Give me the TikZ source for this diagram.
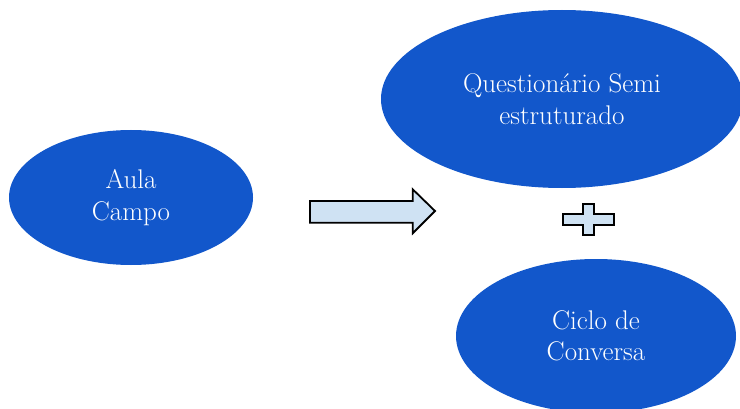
\documentclass[tikz,border=0pt]{standalone}
\usetikzlibrary{shapes.geometric}
\definecolor{ellblue}{RGB}{18,87,203}
\definecolor{shapefill}{RGB}{207,226,243}
\tikzset{
  bubble/.style={ellipse, fill=ellblue, inner sep=0pt, text=white,
    align=center, font=\fontsize{27}{31.5}\selectfont},
  outlined/.style={draw=black, fill=shapefill, line width=1.8pt, line join=miter}
}
\begin{document}
\begin{tikzpicture}[x=1pt,y=1pt]
\useasboundingbox (0,0) rectangle (740,408);
\node[bubble, minimum width=244, minimum height=135] (aula) at (131,210.5) {Aula\\Campo};
\node[bubble, minimum width=362, minimum height=178] (quest) at (562,309) {Questionário Semi\\estruturado};
\node[bubble, minimum width=280, minimum height=154] (ciclo) at (596,72) {Ciclo de\\Conversa};
% arrow
\draw[outlined] (310,207) -- (412.7,207) -- (412.7,218.7) -- (435,197) -- (412.7,174.7) -- (412.7,185.3) -- (310,185.3) -- cycle;
% plus
\draw[outlined] (562.7,194) -- (583.3,194) -- (583.3,204) -- (594,204) -- (594,194) -- (614,194)
  -- (614,183) -- (594,183) -- (594,173) -- (583.3,173) -- (583.3,183) -- (562.7,183) -- cycle;
\end{tikzpicture}
\end{document}
